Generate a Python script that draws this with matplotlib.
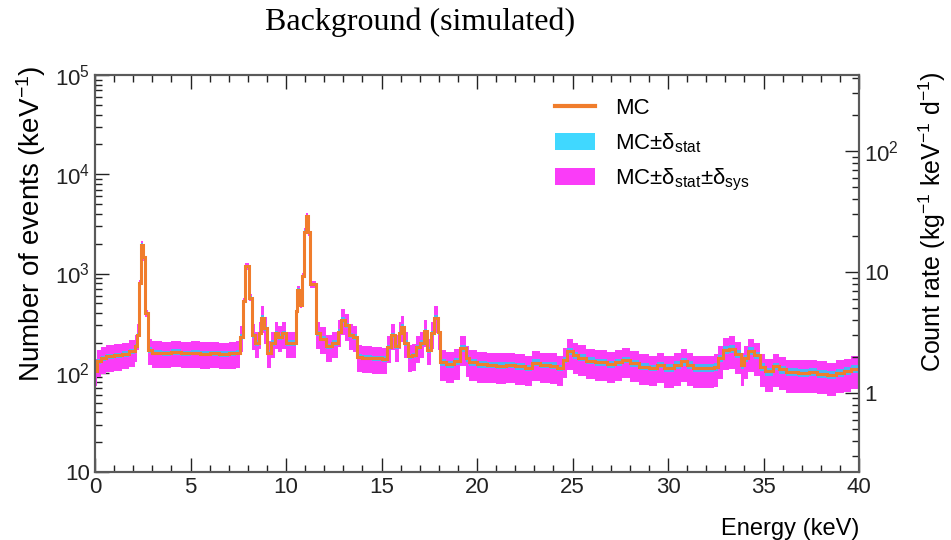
import numpy as np
import matplotlib
matplotlib.use("Agg")
import matplotlib.pyplot as plt
from matplotlib.ticker import FixedLocator, LogLocator, FuncFormatter, MultipleLocator, NullFormatter
from matplotlib.patches import Patch
from matplotlib.lines import Line2D

# bin low edges (keV) and MC counts per keV
bin_lo = [0.0, 0.1, 0.3, 0.6, 1.0, 1.4, 1.8, 2.1, 2.2, 2.3, 2.4, 2.5, 2.6, 2.75,
          3.0, 3.5, 4.0, 4.5, 5.0, 5.5, 6.0, 6.5, 7.0, 7.4, 7.6, 7.75, 7.85, 8.05,
          8.2, 8.4, 8.6, 8.7, 8.85, 9.0, 9.2, 9.4, 9.6, 9.8, 10.0, 10.3, 10.5, 10.6,
          10.75, 10.85, 10.95, 11.05, 11.15, 11.25, 11.55, 11.8, 12.1, 12.4, 12.7,
          12.9, 13.1, 13.3, 13.5, 13.7, 14.0, 14.5, 15.0, 15.3, 15.5, 15.7, 15.9,
          16.0, 16.2, 16.4, 16.6, 16.8, 17.0, 17.2, 17.4, 17.6, 17.75, 17.95, 18.05,
          18.4, 18.8, 19.1, 19.4, 19.6, 20.0, 20.5, 21.0, 21.5, 22.0, 22.5, 22.9,
          23.3, 23.8, 24.2, 24.5, 24.7, 25.0, 25.3, 25.7, 26.2, 26.8, 27.2, 27.6,
          28.0, 28.5, 29.0, 29.4, 29.8, 30.3, 30.7, 31.0, 31.3, 31.8, 32.4, 32.6,
          32.9, 33.2, 33.5, 33.8, 34.0, 34.2, 34.5, 34.8, 35.1, 35.5, 35.8, 36.2,
          36.8, 37.4, 37.8, 38.3, 38.8, 39.2, 39.6]
bin_hi_last = 40.0
mc_counts = [105, 130, 140, 146, 150, 155, 165, 185, 240, 800, 1950, 1450, 400, 170,
             160, 158, 162, 158, 160, 156, 158, 155, 157, 160, 230, 525, 1180, 570,
             240, 200, 250, 360, 280, 160, 200, 250, 230, 250, 200, 200, 420, 690,
             485, 935, 2650, 3800, 2600, 775, 250, 220, 185, 200, 260,
             340, 300, 240, 230, 145, 142, 140, 138, 180, 240, 184, 250,
             290, 200, 146, 150, 180, 200, 262, 170, 250, 360, 260, 128,
             122, 130, 178, 140, 128, 122, 120, 118, 120, 116, 112, 126,
             120, 118, 112, 135, 164, 150, 142, 132, 128, 122, 128, 135,
             125, 115, 112, 120, 112, 120, 130, 120, 112, 112, 115, 140,
             170, 175, 155, 120, 140, 165, 150, 115, 103, 116, 108, 102,
             100, 102, 98, 95, 100, 104, 110]

# relative band half-widths per energy region (peaks carry a smaller band)
region_lo = [0.0, 18.0, 30.0]
stat_frac = [0.06, 0.08, 0.09]
sys_lo_frac = [0.30, 0.35, 0.38]
sys_hi_frac = [0.30, 0.33, 0.33]
peak_level = 400
peak_stat_frac = 0.03
peak_sys_frac = 0.08

ORANGE = "#f07d2c"
CYAN = "#40d8ff"
STAT_FILL = "#4cb4f5"
MAGENTA = "#fa3cf8"
AXIS = "#5a5a5a"

plt.rcParams["font.family"] = ["Liberation Sans", "DejaVu Sans"]
plt.rcParams["mathtext.fontset"] = "custom"
plt.rcParams["mathtext.rm"] = "Liberation Sans"
plt.rcParams["mathtext.it"] = "Liberation Sans"

edges = np.array(bin_lo + [bin_hi_last])
mc = np.array(mc_counts, dtype=float)
centers = 0.5 * (edges[:-1] + edges[1:])
reg = np.searchsorted(region_lo, centers, side="right") - 1
peak = mc >= peak_level
f_stat = np.where(peak, peak_stat_frac, np.array(stat_frac)[reg])
f_lo = np.where(peak, peak_sys_frac, np.array(sys_lo_frac)[reg])
f_hi = np.where(peak, peak_sys_frac, np.array(sys_hi_frac)[reg])

fig = plt.figure(figsize=(9.51, 5.40), dpi=100)
ax = fig.add_axes([0.0999, 0.1259, 0.8034, 0.7352])

ax.stairs(mc * (1 + f_hi), edges, baseline=mc * (1 - f_lo), fill=True,
          color=MAGENTA, lw=0, zorder=2)
ax.stairs(mc * (1 + f_stat), edges, baseline=mc * (1 - f_stat), fill=True,
          color=STAT_FILL, lw=0, zorder=3)
ax.stairs(mc, edges, baseline=None, color=ORANGE, lw=2.2, zorder=4)

ax.set_xlim(0, 40)
ax.set_yscale("log")
ax.set_ylim(10, 1e5)


def dec_fmt(v, pos):
    if v <= 0:
        return ""
    e = int(round(np.log10(v)))
    if abs(v - 10 ** e) > 1e-6 * v:
        return ""
    if e == 0:
        return "1"
    if e == 1:
        return "10"
    return r"$10^{%d}$" % e


ax.yaxis.set_major_locator(FixedLocator([10, 100, 1000, 1e4, 1e5]))
ax.yaxis.set_minor_locator(LogLocator(base=10, subs=np.arange(2, 10)))
ax.yaxis.set_major_formatter(FuncFormatter(dec_fmt))
ax.yaxis.set_minor_formatter(NullFormatter())
ax.xaxis.set_major_locator(MultipleLocator(5))
ax.xaxis.set_minor_locator(MultipleLocator(1))

ax.tick_params(which="both", direction="in", top=True, right=False,
               colors="#222222", labelsize=16, width=1.0)
ax.tick_params(which="major", length=10)
ax.tick_params(which="minor", length=5)
for s in ax.spines.values():
    s.set_color(AXIS)
    s.set_linewidth(1.5)

ax2 = ax.twinx()
ax2.set_yscale("log")
ax2.set_ylim(0.222, 425)
ax2.yaxis.set_major_locator(FixedLocator([1, 10, 100]))
ax2.yaxis.set_minor_locator(LogLocator(base=10, subs=np.arange(2, 10)))
ax2.yaxis.set_major_formatter(FuncFormatter(dec_fmt))
ax2.yaxis.set_minor_formatter(NullFormatter())
ax2.tick_params(which="both", direction="in", colors="#222222", labelsize=16,
                width=1.0)
ax2.tick_params(which="major", length=10)
ax2.tick_params(which="minor", length=5)
for s in ax2.spines.values():
    s.set_color(AXIS)
    s.set_linewidth(1.5)

ax.set_ylabel(r"Number of events (keV$^{-1}$)", fontsize=20, loc="top")
ax.yaxis.set_label_coords(-0.062, 1.025)
ax.set_xlabel("Energy (keV)", fontsize=17, loc="right")
ax.xaxis.set_label_coords(1.0, -0.115)
ax2.set_ylabel(r"Count rate (kg$^{-1}$ keV$^{-1}$ d$^{-1}$)", fontsize=18,
               loc="top")
ax2.yaxis.set_label_coords(1.075, 1.01)

fig.text(0.4416, 0.958, "Background (simulated)", ha="center", va="center",
         fontsize=23, family=["Liberation Serif", "DejaVu Serif"])

handles = [Line2D([], [], color=ORANGE, lw=3),
           Patch(facecolor=CYAN, edgecolor="none"),
           Patch(facecolor=MAGENTA, edgecolor="none")]
labels = ["MC", "MC±δ$_{\\mathrm{stat}}$",
          "MC±δ$_{\\mathrm{stat}}$±δ$_{\\mathrm{sys}}$"]
ax.legend(handles, labels, loc="upper left", bbox_to_anchor=(0.59, 0.965),
          frameon=False, fontsize=16, handlelength=1.8, handleheight=0.8,
          handletextpad=0.9, labelspacing=0.55, borderaxespad=0)

fig.savefig("out.png", dpi=100, facecolor="white")
